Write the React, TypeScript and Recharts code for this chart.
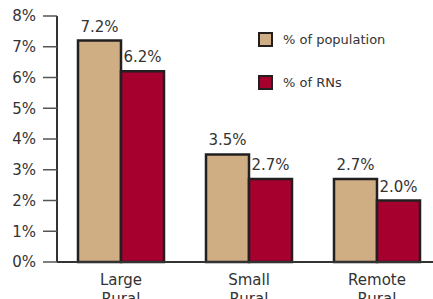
import React from 'react';
import { BarChart, Bar, XAxis, YAxis, LabelList } from 'recharts';

const categories = ['Large Rural', 'Small Rural', 'Remote Rural'];
const populationPct = [7.2, 3.5, 2.7];
const rnPct = [6.2, 2.7, 2.0];
const yTicks = [0, 1, 2, 3, 4, 5, 6, 7, 8];
const seriesNames = ['% of population', '% of RNs'];

const TAN = '#CFAE83';
const RED = '#A6002F';
const STROKE = '#231F20';
const FONT = 'DejaVu Sans, Verdana, sans-serif';

const data = categories.map((c, i) => ({ cat: c, pop: populationPct[i], rn: rnPct[i] }));

const CatTick = (props: any) => {
  const { x, y, payload } = props;
  const words = String(payload.value).split(' ');
  return (
    <text x={x} y={y} textAnchor="middle" fill="#333" fontSize={15} fontFamily={FONT}>
      {words.map((w, i) => (
        <tspan key={i} x={x} dy={i === 0 ? 15 : 19}>{w}</tspan>
      ))}
    </text>
  );
};

const fmt = (v: any) => `${Number(v).toFixed(1)}%`;

export default function App() {
  return (
    <div style={{ position: 'absolute', left: 0, top: 0, width: 433, height: 299, overflow: 'hidden', background: '#fff' }}>
      <BarChart
        width={445}
        height={299}
        data={data}
        margin={{ top: 16, right: 4, bottom: 0, left: 0 }}
        barCategoryGap={21}
        barGap={0}
      >
        <YAxis
          domain={[0, 8]}
          ticks={yTicks}
          tickFormatter={(v) => `${v}%`}
          width={57}
          tickSize={14}
          tickMargin={7}
          axisLine={{ stroke: '#333', strokeWidth: 2 }}
          tickLine={{ stroke: '#555', strokeWidth: 1.5 }}
          tick={{ fill: '#333', fontSize: 15, fontFamily: FONT }}
          interval={0}
        />
        <XAxis
          dataKey="cat"
          height={37}
          tickLine={false}
          axisLine={{ stroke: '#333', strokeWidth: 2 }}
          tick={<CatTick />}
          interval={0}
        />
        <Bar dataKey="pop" name={seriesNames[0]} fill={TAN} stroke={STROKE} strokeWidth={2.5} isAnimationActive={false}>
          <LabelList dataKey="pop" position="top" offset={9} formatter={fmt} fill="#333" fontSize={15} fontFamily={FONT} />
        </Bar>
        <Bar dataKey="rn" name={seriesNames[1]} fill={RED} stroke={STROKE} strokeWidth={2.5} isAnimationActive={false}>
          <LabelList dataKey="rn" position="top" offset={9} formatter={fmt} fill="#333" fontSize={15} fontFamily={FONT} />
        </Bar>
      </BarChart>
      {seriesNames.map((n, i) => (
        <div key={n} style={{ position: 'absolute', left: 258, top: 32 + i * 43, display: 'flex', alignItems: 'center' }}>
          <div style={{ width: 11, height: 11, background: i === 0 ? TAN : RED, border: `2px solid ${STROKE}` }} />
          <span style={{ marginLeft: 10, fontSize: 13, fontFamily: FONT, color: '#333', lineHeight: '15px' }}>{n}</span>
        </div>
      ))}
    </div>
  );
}
